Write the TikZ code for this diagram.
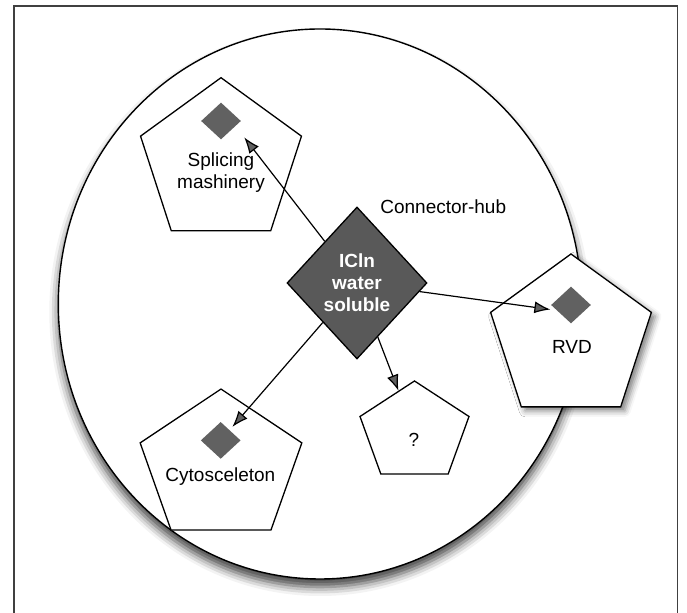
\documentclass[tikz,border=0pt]{standalone}
\usepackage{fontspec}
\setmainfont{Liberation Sans}
\usetikzlibrary{arrows.meta}
\usetikzlibrary{shapes.geometric}
\usetikzlibrary{shadows.blur}
\tikzstyle{pent}=[regular polygon, regular polygon sides=5, draw=black, fill=white, line width=.65pt, inner sep=0pt, minimum size=84.6pt]
\tikzstyle{dot}=[diamond, fill=black!62, inner sep=0pt, minimum width=20pt, minimum height=18.5pt]
\tikzstyle{lbl}=[align=center, inner sep=0pt, font=\fontsize{9.5}{11}\selectfont]
\tikzstyle{arr}=[line width=.6pt, -{Latex[length=8pt, width=6pt]}]

\begin{document}
\begin{tikzpicture}[x=.5pt, y=-.5pt]
    \useasboundingbox (0,0) rectangle (687,613);
    \draw[line width=.75pt, black!75] (14,630) -- (14,6) -- (677.5,6) -- (677.5,630);
    \draw[line width=.7pt, fill=white, blur shadow={shadow xshift=0pt, shadow yshift=-4pt, shadow blur radius=4.5pt, shadow opacity=75}] (320,304) ellipse [x radius=261.7, y radius=275];
    \node[pent] (splice) at (221,162.3) {};
    \node[pent, minimum size=84.5pt, blur shadow={shadow xshift=2pt, shadow yshift=-2pt, shadow blur radius=3pt, shadow opacity=50}] (rvd) at (571,338.5) {};
    \begin{scope}[shift={(221,467)}, yscale=.917]
      \node[pent, minimum size=85pt, transform shape] (cyto) at (0,0) {};
    \end{scope}
    \begin{scope}[shift={(414.5,432.4)}, yscale=.897]
      \node[pent, minimum size=57.3pt, transform shape] (q) at (0,0) {};
    \end{scope}
    \node[dot] (splice-dot) at (221,121) {};
    \node[dot] (rvd-dot) at (571,305) {};
    \node[dot] (cyto-dot) at (220.7,440.4) {};
    \node[lbl] (splice-txt) at (221,173) {Splicing\\mashinery};
    \node[lbl] (rvd-txt) at (572,347) {RVD};
    \node[lbl] (cyto-txt) at (220.4,477) {Cytosceleton};
    \node[lbl] (q-txt) at (414,440) {?};
    \node[lbl, anchor=west] (hub-txt) at (380,207) {Connector-hub};
    \node[diamond, draw=black, fill=black!65, line width=.65pt, inner sep=0pt, minimum width=70pt, minimum height=76pt, text=white, align=center, font=\bfseries\fontsize{9.5}{11}\selectfont] (hub) at (357,283) {ICln\\water\\soluble};
    \draw[arr, shorten >=7pt] (hub) -- (splice-dot.-20);
    \draw[arr, shorten >=3pt] (hub) -- (rvd-dot.-160);
    \draw[arr, shorten >=2pt] (hub) -- (cyto-dot);
    \draw[arr] (hub) -- (q);
\end{tikzpicture}
\end{document}
